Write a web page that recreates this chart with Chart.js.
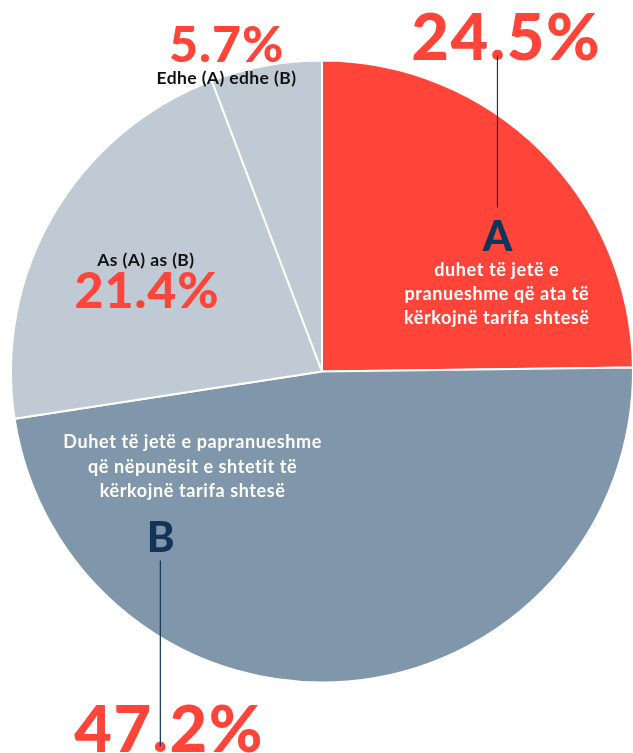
<!DOCTYPE html>
<html><head><meta charset="utf-8">
<script src="https://cdn.jsdelivr.net/npm/chart.js@4/dist/chart.umd.min.js"></script>
<style>
html,body{margin:0;padding:0;background:#fff;overflow:hidden;width:633px;height:753px}
#wrap{position:relative;width:645px;height:753px}
</style></head><body>
<div id="wrap"><canvas id="c" width="645" height="753"></canvas></div>
<script>
const categories = ["A", "B", "As (A) as (B)", "Edhe (A) edhe (B)"];
const values = [24.5, 47.2, 21.4, 5.7];
const valueLabels = ["24.5%", "47.2%", "21.4%", "5.7%"];
const descA = ["duhet të jetë e", "pranueshme që ata të", "kërkojnë tarifa shtesë"];
const descB = ["Duhet të jetë e papranueshme", "që nëpunësit e shtetit të", "kërkojnë tarifa shtesë"];
const colors = ["#FF4439", "#8096AA", "#BFCAD4", "#BFCAD4"];

const RED = "#FF4439", NAVY = "#11355A";
const FONT = "Lato, 'Open Sans', sans-serif";

const labelPlugin = {
  id: 'labels',
  afterDraw(chart) {
    const ctx = chart.ctx;
    const arc = chart.getDatasetMeta(0).data[0];
    const cx = arc.x, cy = arc.y, R = arc.outerRadius;
    const P = (fx, fy) => [cx + fx * R, cy + fy * R];
    ctx.save();
    ctx.textBaseline = 'alphabetic';

    function setSpacing(s) { if ('letterSpacing' in ctx) ctx.letterSpacing = s + 'px'; }
    // number with a leader line from its period
    function bigNum(text, size, x, y, sp) {
      ctx.font = `900 ${size}px ${FONT}`;
      setSpacing(sp);
      ctx.fillStyle = RED;
      ctx.textAlign = 'left';
      const w = ctx.measureText(text).width - sp;
      const x0 = x - w / 2;
      ctx.fillText(text, x0, y);
      const i = text.indexOf('.');
      const pre = ctx.measureText(text.slice(0, i)).width;
      const dot = ctx.measureText('.').width - sp;
      setSpacing(0);
      return x0 + pre + dot / 2;
    }
    function line(x, y1, y2) {
      ctx.strokeStyle = NAVY; ctx.lineWidth = 1.2;
      ctx.beginPath(); ctx.moveTo(x, y1); ctx.lineTo(x, y2); ctx.stroke();
    }
    function txt(t, x, y, size, weight, color, sp) {
      ctx.font = `${weight} ${size}px ${FONT}`;
      setSpacing(sp || 0);
      ctx.fillStyle = color; ctx.textAlign = 'left';
      const w = ctx.measureText(t).width - (sp || 0);
      ctx.fillText(t, x - w / 2, y);
      setSpacing(0);
    }

    // A slice
    let [ax, ay] = P(0.590, -1.003);
    const lxA = bigNum(valueLabels[0], 65, ax, ay, 1.5);
    line(lxA, ay - 4, cy - 164);
    let [lax, lay] = P(0.564, -0.388);
    txt(categories[0], lax, lay, 42, 900, NAVY, 0);
    descA.forEach((t, k) => {
      const [x, y] = P(0.561, -0.308 + k * 0.077);
      txt(t, x, y, 18, 700, "#ffffff", 0.6);
    });

    // B slice
    descB.forEach((t, k) => {
      const [x, y] = P(-0.417, 0.247 + k * 0.079);
      txt(t, x, y, 18, 700, "#ffffff", 0.6);
    });
    let [lbx, lby] = P(-0.519, 0.581);
    txt(categories[1], lbx, lby, 42, 900, NAVY, 0);
    let [bx, by] = P(-0.494, 1.224);
    const lxB = bigNum(valueLabels[1], 65, bx, by, 1.5);
    line(lxB, cy + 189, by - 6);

    // As slice
    let [sx, sy] = P(-0.567, -0.340);
    txt(categories[2], sx, sy, 17.5, 700, "#111111", 0.4);
    let [s2x, s2y] = P(-0.564, -0.205);
    bigNum(valueLabels[2], 50, s2x, s2y, 1);

    // Edhe slice
    let [ex, ey] = P(-0.308, -0.923);
    txt(categories[3], ex, ey, 17.5, 700, "#111111", 0.4);
    let [e2x, e2y] = P(-0.308, -0.994);
    bigNum(valueLabels[3], 50, e2x, e2y, 1);

    ctx.restore();
  }
};

new Chart(document.getElementById('c'), {
  type: 'pie',
  data: {
    labels: categories,
    datasets: [{
      data: values,
      backgroundColor: colors,
      borderColor: "#ffffff",
      borderWidth: 2
    }]
  },
  options: {
    responsive: false,
    animation: false,
    events: [],
    layout: { padding: { left: 10, right: 11, top: 59, bottom: 69 } },
    plugins: { legend: { display: false }, tooltip: { enabled: false } }
  },
  plugins: [labelPlugin]
});
</script>
</body></html>
